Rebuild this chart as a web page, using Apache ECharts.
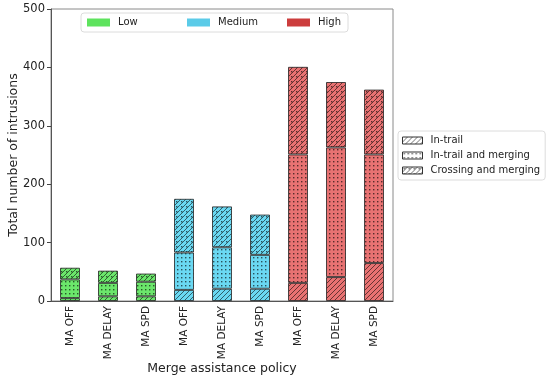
<!DOCTYPE html>
<html>
<head>
<meta charset="utf-8">
<script src="https://cdn.jsdelivr.net/npm/echarts@6/dist/echarts.min.js"></script>
<style>html,body{margin:0;padding:0;background:#fff}#c{width:550px;height:380px}</style>
</head>
<body>
<div id="c"></div>
<script>
// ---- data ----
const categories = ['MA OFF','MA DELAY','MA SPD','MA OFF','MA DELAY','MA SPD','MA OFF','MA DELAY','MA SPD'];
const levels = ['Low','Low','Low','Medium','Medium','Medium','High','High','High'];
const levelNames = ['Low','Medium','High'];
const typeNames = ['In-trail','In-trail and merging','Crossing and merging'];
const inTrail = [5, 8, 8, 19, 21, 21, 31, 41, 65];
const inTrailMerging = [32, 23, 25, 64, 71, 58, 220, 222, 186];
const crossingMerging = [20, 21, 14, 92, 70, 69, 150, 112, 111];
const yTicks = [0, 100, 200, 300, 400, 500];

// ---- styles ----
const FONT = 'DejaVu Sans';
const barFill = {Low: '#6be66b', Medium: '#6ad8f2', High: '#e87272'};
const legendFill = {Low: '#5ee35e', Medium: '#5bcbe8', High: '#cc3d3d'};
const ink = 'rgba(0,0,0,0.62)';

function makePattern(bg, kind) {
  const s = 20;
  const c = document.createElement('canvas');
  c.width = s; c.height = s;
  const g = c.getContext('2d');
  g.fillStyle = bg; g.fillRect(0, 0, s, s);
  g.strokeStyle = ink; g.fillStyle = ink; g.lineWidth = 0.9;
  if (kind === 'diag' || kind === 'cross') {
    g.beginPath();
    for (let k = 0; k <= 2 * s; k += 5) { g.moveTo(k + 2, -2); g.lineTo(-2, k + 2); }
    g.stroke();
  }
  if (kind === 'dots') {
    for (let x = 0; x < s; x += 4) for (let y = 0; y < s; y += 4) g.fillRect(x + 1, y + 1, 1.4, 1.4);
  }
  if (kind === 'cross') {
    for (let x = 0; x < s; x += 5) for (let y = 0; y < s; y += 5) g.fillRect(x + 1, y + 1, 1.4, 1.4);
  }
  return {image: c, repeat: 'repeat'};
}
const kinds = ['diag', 'dots', 'cross'];
const patterns = {};
['Low','Medium','High'].forEach(l => { patterns[l] = kinds.map(k => makePattern(barFill[l], k)); });
const whitePatterns = kinds.map(k => makePattern('#ffffff', k));

const border = {borderColor: 'rgba(35,35,35,0.8)', borderWidth: 1};
function seriesData(vals, kIdx) {
  return vals.map((v, i) => ({value: v, itemStyle: {color: patterns[levels[i]][kIdx]}}));
}
const xData = categories.map((c, i) => i + '|' + c);

const main = [inTrail, inTrailMerging, crossingMerging].map((vals, k) => ({
  name: typeNames[k], type: 'bar', stack: 'main', barWidth: 20,
  itemStyle: Object.assign({color: whitePatterns[k]}, border),
  emphasis: {disabled: true},
  data: seriesData(vals, k)
}));
const dummies = levelNames.map(l => ({
  name: l, type: 'bar', stack: 'main', data: [], itemStyle: {color: legendFill[l]}
}));

const chart = echarts.init(document.getElementById('c'), null, {renderer: 'canvas'});
chart.setOption({
  animation: false,
  grid: {left: 51, right: 157, top: 9, bottom: 79, show: true, borderColor: '#8a8a8a', borderWidth: 1,
    backgroundColor: 'transparent', containLabel: false, outerBoundsMode: 'none'},
  legend: [
    {
      data: levelNames.map((l, i) => ({name: l, icon: 'rect', itemStyle: {color: legendFill[l], borderWidth: 0},
        textStyle: {width: i === levelNames.length - 1 ? 24 : 62}})),
      left: 81, top: 13, orient: 'horizontal', padding: [3, 6],
      itemWidth: 23, itemHeight: 8, itemGap: 7,
      backgroundColor: '#fff', borderColor: '#dcdcdc', borderWidth: 1, borderRadius: 3,
      selectedMode: false,
      textStyle: {fontFamily: FONT, fontSize: 10, color: '#222', width: 62, padding: [0, 0, 0, 3], lineHeight: 13}
    },
    {
      data: typeNames.map((n, k) => ({name: n, icon: 'rect', itemStyle: {color: whitePatterns[k], borderColor: '#333', borderWidth: 1}})),
      left: 398, top: 131, orient: 'vertical', padding: [3, 5, 3, 4],
      itemWidth: 20, itemHeight: 7, itemGap: 2,
      backgroundColor: '#fff', borderColor: '#dcdcdc', borderWidth: 1, borderRadius: 3,
      selectedMode: false,
      textStyle: {fontFamily: FONT, fontSize: 10, color: '#222', padding: [0, 0, 0, 3], lineHeight: 13}
    }
  ],
  xAxis: {
    type: 'category', data: xData,
    name: 'Merge assistance policy', nameLocation: 'middle', nameGap: 61, nameMoveOverlap: false,
    nameTextStyle: {fontFamily: FONT, fontSize: 12.5, color: '#222'},
    axisLine: {lineStyle: {color: '#555', width: 1}},
    axisTick: {alignWithLabel: true, length: 4, lineStyle: {color: '#444'}},
    axisLabel: {rotate: 90, margin: 5, fontFamily: FONT, fontSize: 10.5, color: '#222', interval: 0,
      formatter: v => v.split('|')[1]}
  },
  yAxis: {
    type: 'value', min: yTicks[0], max: yTicks[yTicks.length - 1], interval: 100,
    name: 'Total number of intrusions', nameLocation: 'middle', nameGap: 31, nameMoveOverlap: false,
    nameTextStyle: {fontFamily: FONT, fontSize: 12.5, color: '#222'},
    axisLine: {show: true, lineStyle: {color: '#555', width: 1}},
    axisTick: {show: true, length: 4, lineStyle: {color: '#444'}},
    splitLine: {show: false},
    axisLabel: {margin: 6, fontFamily: FONT, fontSize: 11.5, color: '#222'}
  },
  series: main.concat(dummies)
});
</script>
</body>
</html>
